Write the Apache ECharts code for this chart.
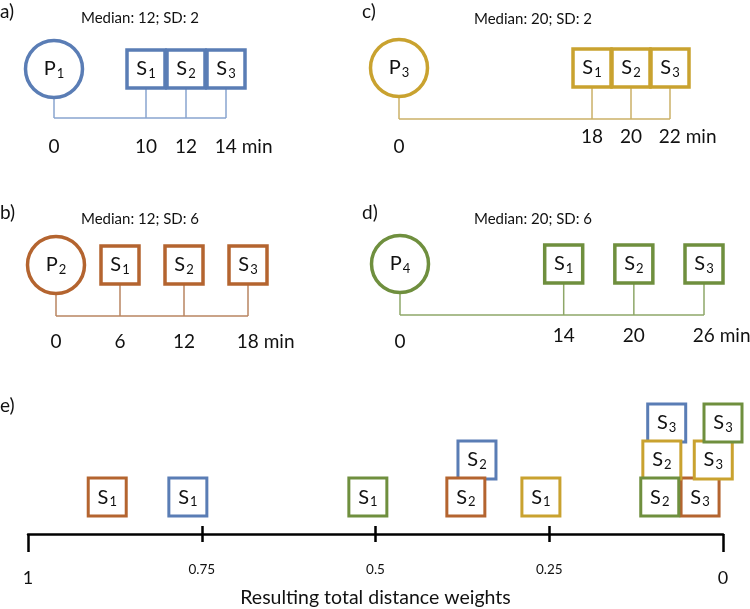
<!DOCTYPE html>
<html><head><meta charset="utf-8">
<script src="https://cdn.jsdelivr.net/npm/echarts@6/dist/echarts.min.js"></script>
<style>html,body{margin:0;padding:0;background:#fff}#c{width:750px;height:609px}</style>
</head><body><div id="c"></div>
<script>
// ---------------- data ----------------
const panelLetters = ['a)', 'b)', 'c)', 'd)', 'e)'];
const pointIndex = [1, 2, 3, 4];
const medians = [12, 12, 20, 20];
const sds = [2, 6, 2, 6];
const siteIndex = [1, 2, 3];
const timesA = [10, 12, 14];
const timesB = [6, 12, 18];
const timesC = [18, 20, 22];
const timesD = [14, 20, 26];
const weightsA = [0.770, 0.354, 0.081];
const weightsB = [0.886, 0.370, 0.033];
const weightsC = [0.262, 0.088, 0.014];
const weightsD = [0.511, 0.091, 0.000];
const rowsA = [1, 2, 3];
const rowsB = [1, 1, 1];
const rowsC = [1, 2, 2];
const rowsD = [1, 1, 3];
const weightTicks = [1, 0.75, 0.5, 0.25, 0];
const timeUnit = 'min';
const weightAxisName = 'Resulting total distance weights';

// ---------------- layout / style ----------------
const FONT = 'Lato';
const TXT = '#111';
const panels = [
  { times: timesA, weights: weightsA, rows: rowsA, color: '#5a7db5', line: '#88a4cf',
    grid: { left: 54, top: 69, width: 172, height: 49 }, breaks: [{ start: 1, end: 9, gap: 2.6 }],
    zeroDy: 29, tickDy: 29, median: [140, 18], letter: [0, 12] },
  { times: timesB, weights: weightsB, rows: rowsB, color: '#b4642f', line: '#b88461',
    grid: { left: 56, top: 265, width: 192, height: 51 }, breaks: null,
    zeroDy: 26, tickDy: 26, median: [140, 219], letter: [0, 213] },
  { times: timesC, weights: weightsC, rows: rowsC, color: '#c9a22f', line: '#cbb067',
    grid: { left: 399, top: 68, width: 271, height: 51 }, breaks: [{ start: 1, end: 17, gap: 7.9 }],
    zeroDy: 28, tickDy: 18, median: [533, 19], letter: [362, 12] },
  { times: timesD, weights: weightsD, rows: rowsD, color: '#6f8f3e', line: '#8ea768',
    grid: { left: 400, top: 264, width: 304, height: 51 }, breaks: null,
    zeroDy: 27, tickDy: 21, median: [533, 219], letter: [362, 213] }
];
const BOX = 38, CIRCLE = 57;
const noStroke = { textBorderWidth: 0, textBorderColor: 'transparent', textShadowBlur: 0 };

const rich = {
  s: Object.assign({ fontSize: 20, fontFamily: FONT, color: TXT, lineHeight: 22 }, noStroke),
  sub: Object.assign({ fontSize: 13, fontFamily: FONT, color: TXT, lineHeight: 15, verticalAlign: 'bottom', padding: [0, 0, 0, 1] }, noStroke),
  n: Object.assign({ fontSize: 19, fontFamily: FONT, color: TXT }, noStroke)
};

const grid = [], xAxis = [], yAxis = [], series = [], graphic = [];

panels.forEach((p, i) => {
  const tmax = p.times[p.times.length - 1];
  grid.push(Object.assign({ containLabel: false }, p.grid));
  const xa = { type: 'value', gridIndex: i, min: 0, max: tmax, show: false };
  if (p.breaks) { xa.breaks = p.breaks; xa.breakArea = { show: false }; }
  xAxis.push(xa);
  yAxis.push({ type: 'value', gridIndex: i, min: 0, max: 1, show: false });

  // connectors
  series.push({
    type: 'custom', xAxisIndex: i, yAxisIndex: i, silent: true, z: 1,
    data: [0].concat(p.times).map(t => [t]),
    renderItem: (params, api) => {
      const t = api.value(0);
      const top = api.coord([t, 1]);
      const bot = api.coord([t, 0]);
      const half = params.dataIndex === 0 ? CIRCLE / 2 : BOX / 2;
      const children = [{ type: 'line', shape: { x1: top[0], y1: top[1] + half, x2: bot[0], y2: bot[1] },
        style: { stroke: p.line, lineWidth: 1.5 } }];
      if (params.dataIndex === 0) {
        const end = api.coord([tmax, 0]);
        children.push({ type: 'line', shape: { x1: bot[0], y1: bot[1], x2: end[0], y2: end[1] },
          style: { stroke: p.line, lineWidth: 1.5 } });
      }
      return { type: 'group', children };
    }
  });
  // point circle
  series.push({
    type: 'scatter', xAxisIndex: i, yAxisIndex: i, symbol: 'circle', symbolSize: CIRCLE, z: 3,
    data: [[0, 1]],
    itemStyle: { color: '#fff', borderColor: p.color, borderWidth: 3.5, opacity: 1 },
    label: Object.assign({ show: true, position: 'inside', formatter: '{s|P}{sub|' + pointIndex[i] + '}', rich }, noStroke)
  });
  // site boxes
  series.push({
    type: 'scatter', xAxisIndex: i, yAxisIndex: i, symbol: 'rect', symbolSize: BOX, z: 3,
    data: p.times.map(t => [t, 1]),
    itemStyle: { color: '#fff', borderColor: p.color, borderWidth: 3.5, opacity: 1 },
    label: Object.assign({ show: true, position: 'inside', formatter: q => '{s|S}{sub|' + siteIndex[q.dataIndex] + '}', rich }, noStroke)
  });
  // tick labels
  const ticks = [0].concat(p.times);
  series.push({
    type: 'scatter', xAxisIndex: i, yAxisIndex: i, symbolSize: 1, silent: true, z: 2,
    itemStyle: { color: 'rgba(0,0,0,0)', opacity: 1 },
    data: ticks.map((t, k) => {
      const last = k === ticks.length - 1;
      const d = { value: [t, 0], label: { offset: [0, k === 0 ? p.zeroDy : p.tickDy] } };
      if (last) {
        d.label.align = 'left';
        d.label.offset = [-String(t).length * 5.6, p.tickDy];
      }
      return d;
    }),
    label: Object.assign({ show: true, position: 'inside', color: TXT, rich,
      formatter: q => '{n|' + (q.dataIndex === ticks.length - 1 ? q.value[0] + ' ' + timeUnit : String(q.value[0])) + '}' }, noStroke)
  });

  graphic.push({ type: 'text', x: p.letter[0], y: p.letter[1], style: { text: panelLetters[i], font: '19px ' + FONT, fill: TXT, textVerticalAlign: 'middle' } });
  graphic.push({ type: 'text', x: p.median[0], y: p.median[1], style: { text: 'Median: ' + medians[i] + '; SD: ' + sds[i], font: '15px ' + FONT, fill: TXT, textAlign: 'center', textVerticalAlign: 'middle' } });
});

// ----- panel e -----
const E = panels.length;
grid.push({ left: 28, width: 695, top: 423, height: 123 });
xAxis.push({
  type: 'value', gridIndex: E, position: 'bottom', min: 0, max: 1, inverse: true,
  axisLine: { show: true, lineStyle: { color: '#000', width: 2.5 } },
  axisTick: { show: true, customValues: [0, 1], length: 18, lineStyle: { color: '#000', width: 2.5 } },
  splitLine: { show: false },
  axisLabel: {
    show: true, customValues: weightTicks, margin: 29,
    formatter: v => (v === 0 || v === 1) ? '{big|' + v + '}' : '{small|' + v + '}',
    rich: {
      big: { fontSize: 18, fontFamily: FONT, color: TXT, padding: [6, 0, 0, 0] },
      small: { fontSize: 13.5, fontFamily: FONT, color: TXT }
    }
  },
  name: weightAxisName, nameLocation: 'middle', nameGap: 42,
  nameTextStyle: { fontSize: 19.5, fontFamily: FONT, color: TXT }
});
xAxis.push({
  type: 'value', gridIndex: E, position: 'bottom', min: 0, max: 1, inverse: true, offset: -8,
  axisLine: { show: false },
  axisTick: { show: true, customValues: weightTicks.slice(1, 4), length: 16, lineStyle: { color: '#000', width: 2.5 } },
  axisLabel: { show: false }, splitLine: { show: false }
});
yAxis.push({ type: 'value', gridIndex: E, min: 0, max: 3, show: false });

panels.forEach((p, i) => {
  series.push({
    type: 'scatter', xAxisIndex: E, yAxisIndex: E, symbol: 'rect', symbolSize: BOX, z: 3,
    data: p.weights.map((w, k) => [w, p.rows[k]]),
    itemStyle: { color: '#fff', borderColor: p.color, borderWidth: 3, opacity: 1 },
    label: Object.assign({ show: true, position: 'inside', formatter: q => '{s|S}{sub|' + siteIndex[q.dataIndex] + '}', rich }, noStroke)
  });
});
graphic.push({ type: 'text', x: 0, y: 406, style: { text: panelLetters[4], font: '19px ' + FONT, fill: TXT, textVerticalAlign: 'middle' } });

const chart = echarts.init(document.getElementById('c'), null, { renderer: 'canvas' });
chart.setOption({ animation: false, backgroundColor: '#fff', grid, xAxis, yAxis, series, graphic });
</script></body></html>
